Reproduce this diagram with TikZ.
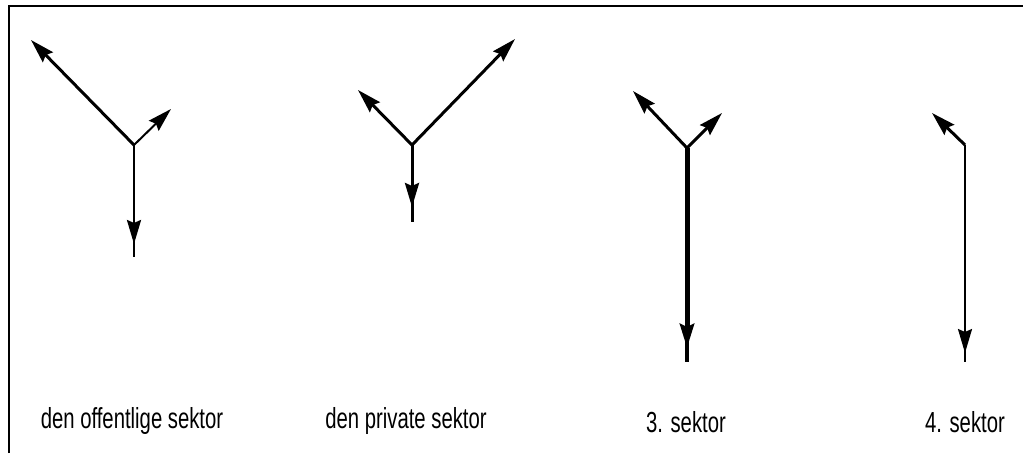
\documentclass[tikz,border=0pt]{standalone}
\usepackage{fontspec}
\setmainfont{Liberation Sans}[FakeStretch=0.7]
\usetikzlibrary{arrows.meta}

\begin{document}
\begin{tikzpicture}[
    x=1pt, y=-1pt,
    flow/.style={-{Stealth[length=24pt, width=14pt, inset=3pt]}, line width=#1},
    flow/.default=2.5pt,
    stem/.style={line width=#1},
    stem/.default=2.5pt,
    sector label/.style={anchor=base, inner sep=0pt, font=\fontsize{29}{33}\selectfont}
]
\useasboundingbox (0,0) rectangle (1023,453);
\draw[line width=2pt] (9,453) -- (9,6) -- (1023,6);

% den offentlige sektor
\coordinate (j1) at (134,145);
\coordinate (a1) at (31,40);
\coordinate (b1) at (171,109);
\coordinate (d1) at (134,244);
\coordinate (e1) at (134,257);
\draw[stem] (j1) -- (e1);
\draw[flow=3pt] (j1) -- (a1);
\draw[flow=2pt] (j1) -- (b1);
\draw[flow] (j1) -- (d1);

% den private sektor
\coordinate (j2) at (412,145);
\coordinate (a2) at (358,90);
\coordinate (b2) at (515,39);
\coordinate (d2) at (412,207);
\coordinate (e2) at (412,222);
\draw[stem=3pt] (j2) -- (e2);
\draw[flow=3pt] (j2) -- (a2);
\draw[flow=3pt] (j2) -- (b2);
\draw[flow=3pt] (j2) -- (d2);

% 3. sektor
\coordinate (j3) at (687,148);
\coordinate (a3) at (633,91);
\coordinate (b3) at (722,113);
\coordinate (d3) at (687,348);
\coordinate (e3) at (687,362);
\draw[stem=4pt] (j3) -- (e3);
\draw[flow=3pt] (j3) -- (a3);
\draw[flow=3pt] (j3) -- (b3);
\draw[flow=5pt] (j3) -- (d3);

% 4. sektor
\coordinate (j4) at (965,145);
\coordinate (a4) at (932,113);
\coordinate (d4) at (965,353);
\coordinate (e4) at (965,362);
\draw[stem=2pt] (j4) -- (e4);
\draw[flow=3pt] (j4) -- (a4);
\draw[flow=2pt] (j4) -- (d4);

\node[sector label] (l1) at (132,428) {den offentlige sektor};
\node[sector label] (l2) at (406,428) {den private sektor};
\node[sector label] (l3) at (686,432) {3. sektor};
\node[sector label] (l4) at (965,432) {4. sektor};

\end{tikzpicture}
\end{document}
